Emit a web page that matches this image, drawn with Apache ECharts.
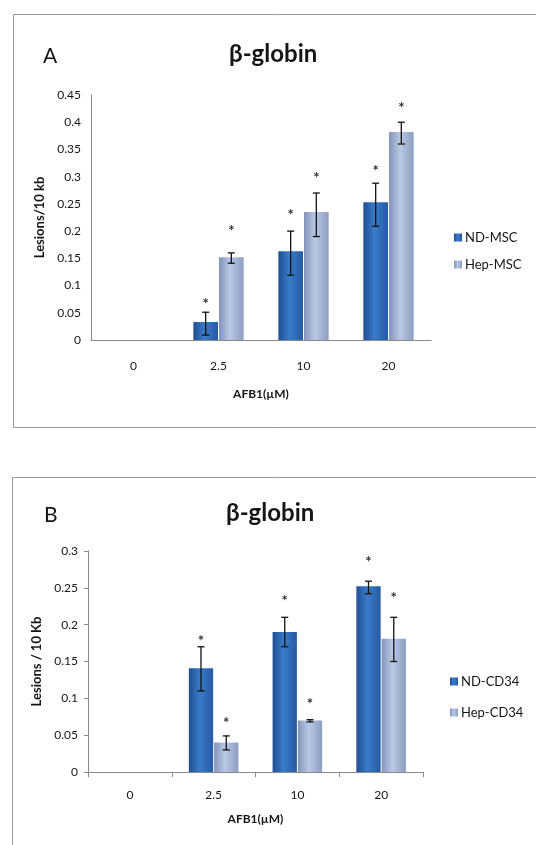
<!DOCTYPE html>
<html>
<head>
<meta charset="utf-8">
<script src="https://cdn.jsdelivr.net/npm/echarts@6/dist/echarts.min.js"></script>
<style>
  html, body { margin: 0; padding: 0; background: #fff; }
  #chart { width: 536px; height: 845px; }
</style>
</head>
<body>
<div id="chart"></div>
<script>
  // AFB1 doses (x categories), shared by both panels
  const doses = ['0', '2.5', '10', '20'];

  // Panel A: MSC, lesions / 10 kb
  const ndMsc = [0, 0.033, 0.163, 0.253];
  const hepMsc = [0, 0.152, 0.235, 0.382];
  // error bars: [dose index, low, high, asterisk level]
  const ndMscErr = [[1, 0.009, 0.051, 0.073], [2, 0.119, 0.2, 0.237], [3, 0.209, 0.288, 0.318]];
  const hepMscErr = [[1, 0.141, 0.16, 0.208], [2, 0.19, 0.27, 0.305], [3, 0.36, 0.4, 0.433]];
  const ticksA = [0, 0.05, 0.1, 0.15, 0.2, 0.25, 0.3, 0.35, 0.4, 0.45];

  // Panel B: CD34, lesions / 10 Kb
  const ndCd34 = [0, 0.141, 0.19, 0.252];
  const hepCd34 = [0, 0.04, 0.07, 0.181];
  const ndCd34Err = [[1, 0.11, 0.17, 0.183], [2, 0.17, 0.21, 0.238], [3, 0.242, 0.259, 0.29]];
  const hepCd34Err = [[1, 0.03, 0.049, 0.072], [2, 0.068, 0.071, 0.098], [3, 0.15, 0.21, 0.242]];
  const ticksB = [0, 0.05, 0.1, 0.15, 0.2, 0.25, 0.3];

  const FONT = 'Lato, "Open Sans", sans-serif';
  const TXT = '#151515';

  const ndColor = new echarts.graphic.LinearGradient(0, 0, 1, 0, [
    { offset: 0, color: '#1f4f93' },
    { offset: 0.45, color: '#3a7bc8' },
    { offset: 1, color: '#245aa3' }
  ]);
  const hepColor = new echarts.graphic.LinearGradient(0, 0, 1, 0, [
    { offset: 0, color: '#8494b8' },
    { offset: 0.45, color: '#b9c8e6' },
    { offset: 1, color: '#8d9dc0' }
  ]);

  const BAR_W = 0.29; // share of the category band
  const SHIFT = BAR_W * 1.04 / 2;

  const errRenderer = side => (params, api) => {
    const c = api.value(0);
    const lo = api.coord([c, api.value(1)]);
    const hi = api.coord([c, api.value(2)]);
    const st = api.coord([c, api.value(3)]);
    const band = api.size([1, 0])[0];
    const x = lo[0] + side * band * SHIFT;
    const cap = 3.5;
    const ls = { stroke: '#111', lineWidth: 1.3 };
    return {
      type: 'group',
      children: [
        { type: 'line', shape: { x1: x, y1: lo[1], x2: x, y2: hi[1] }, style: ls },
        { type: 'line', shape: { x1: x - cap, y1: lo[1], x2: x + cap, y2: lo[1] }, style: ls },
        { type: 'line', shape: { x1: x - cap, y1: hi[1], x2: x + cap, y2: hi[1] }, style: ls },
        {
          type: 'text',
          x: x,
          y: st[1] + 4,
          style: { text: '*', fill: '#333', font: 'bold 15px ' + FONT, align: 'center', verticalAlign: 'middle' }
        }
      ]
    };
  };

  const yAxisFor = (ticks, grid, name, gap, showTicks) => ({
    type: 'value',
    gridIndex: grid,
    min: ticks[0],
    max: ticks[ticks.length - 1],
    interval: ticks[1] - ticks[0],
    name: name,
    nameLocation: 'middle',
    nameGap: gap,
    nameTextStyle: { fontFamily: FONT, fontWeight: 'bold', fontSize: 13, color: TXT },
    axisLine: { show: true, lineStyle: { color: '#8a8a8a', width: 1 } },
    axisTick: { show: showTicks, length: 4, lineStyle: { color: '#8a8a8a' } },
    splitLine: { show: false },
    axisLabel: {
      fontFamily: FONT, fontSize: 12, color: TXT, margin: 10,
      formatter: v => String(+v.toFixed(2))
    }
  });

  const xAxisFor = (grid, margin, gap, showTicks) => ({
    type: 'category',
    gridIndex: grid,
    data: doses,
    name: 'AFB1(µM)',
    nameLocation: 'middle',
    nameGap: gap,
    nameTextStyle: { fontFamily: FONT, fontWeight: 'bold', fontSize: 12, color: TXT },
    axisLine: { lineStyle: { color: '#8a8a8a', width: 1.2 } },
    axisTick: { show: showTicks, length: 5, lineStyle: { color: '#8a8a8a' } },
    axisLabel: { fontFamily: FONT, fontSize: 12, color: TXT, margin: margin }
  });

  const barSeries = (name, data, color, ax) => ({
    name: name,
    type: 'bar',
    xAxisIndex: ax,
    yAxisIndex: ax,
    data: data,
    barWidth: (BAR_W * 100) + '%',
    barGap: '4%',
    itemStyle: { color: color },
    z: 2
  });

  const errSeries = (data, side, ax) => ({
    type: 'custom',
    xAxisIndex: ax,
    yAxisIndex: ax,
    data: data,
    encode: { x: 0, y: [1, 2, 3] },
    renderItem: errRenderer(side),
    silent: true,
    z: 5
  });

  const chart = echarts.init(document.getElementById('chart'), null, { renderer: 'canvas' });

  chart.setOption({
    animation: false,
    backgroundColor: '#fff',
    textStyle: { fontFamily: FONT },
    graphic: [
      { type: 'rect', shape: { x: 13.5, y: 14.5, width: 620, height: 413 }, style: { fill: 'none', stroke: '#9a9a9a', lineWidth: 1 }, silent: true },
      { type: 'rect', shape: { x: 12.5, y: 477.5, width: 620, height: 420 }, style: { fill: 'none', stroke: '#9a9a9a', lineWidth: 1 }, silent: true }
    ],
    title: [
      { text: 'β-globin', left: 224, top: 37, textStyle: { fontFamily: FONT, fontSize: 24, fontWeight: 'bold', color: TXT } },
      { text: 'A', left: 38, top: 41, textStyle: { fontFamily: FONT, fontSize: 21, fontWeight: 'normal', color: TXT } },
      { text: 'β-globin', left: 221, top: 496, textStyle: { fontFamily: FONT, fontSize: 24, fontWeight: 'bold', color: TXT } },
      { text: 'B', left: 39, top: 500, textStyle: { fontFamily: FONT, fontSize: 21, fontWeight: 'normal', color: TXT } }
    ],
    legend: [
      {
        orient: 'vertical', left: 449, top: 226, itemGap: 14, itemWidth: 8, itemHeight: 8, icon: 'rect',
        data: ['ND-MSC', 'Hep-MSC'],
        textStyle: { fontFamily: FONT, fontSize: 13, color: TXT, padding: [0, 0, 0, -2] }
      },
      {
        orient: 'vertical', left: 445, top: 670, itemGap: 18, itemWidth: 8, itemHeight: 8, icon: 'rect',
        data: ['ND-CD34', 'Hep-CD34'],
        textStyle: { fontFamily: FONT, fontSize: 13, color: TXT, padding: [0, 0, 0, -2] }
      }
    ],
    grid: [
      { left: 91, top: 95, width: 340, height: 245 },
      { left: 88, top: 551, width: 335, height: 221 }
    ],
    xAxis: [
      xAxisFor(0, 20, 48, false),
      xAxisFor(1, 17, 41, true)
    ],
    yAxis: [
      yAxisFor(ticksA, 0, 'Lesions/10 kb', 42, false),
      yAxisFor(ticksB, 1, 'Lesions / 10 Kb', 40, true)
    ],
    series: [
      barSeries('ND-MSC', ndMsc, ndColor, 0),
      barSeries('Hep-MSC', hepMsc, hepColor, 0),
      errSeries(ndMscErr, -1, 0),
      errSeries(hepMscErr, 1, 0),
      barSeries('ND-CD34', ndCd34, ndColor, 1),
      barSeries('Hep-CD34', hepCd34, hepColor, 1),
      errSeries(ndCd34Err, -1, 1),
      errSeries(hepCd34Err, 1, 1)
    ]
  });
</script>
</body>
</html>
